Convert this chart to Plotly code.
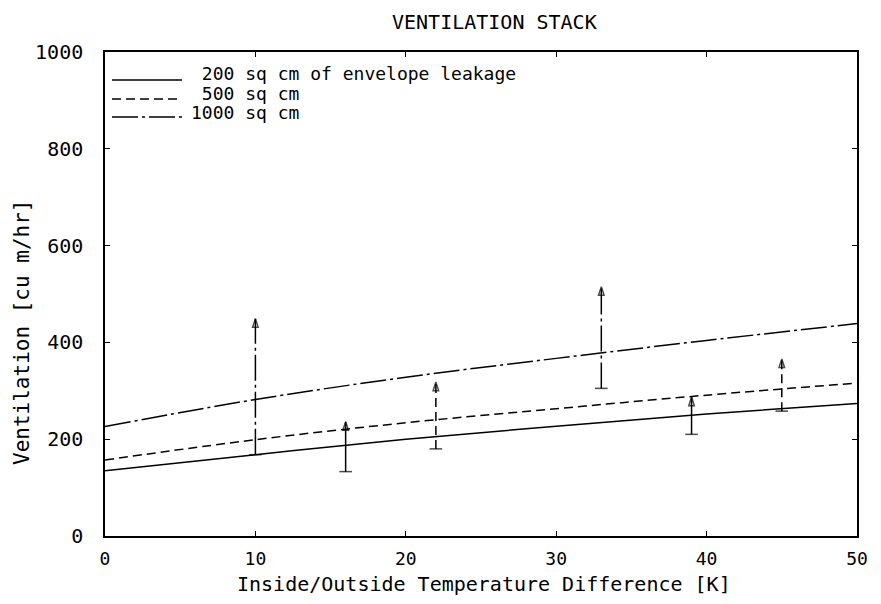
import plotly.graph_objects as go

# ---- data ----
temp_diff = [0, 10, 20, 30, 40, 50]
vent_200 = [135, 168, 200, 227, 252, 274]
vent_500 = [157, 199, 234, 263, 291, 316]
vent_1000 = [226, 282, 328, 367, 404, 439]

series_labels = ["\u00a0200 sq cm of envelope leakage", "\u00a0500 sq cm", "1000 sq cm"]

# measured points shown as vertical arrows (x, low, high, style index)
arrow_x = [10, 16, 22, 33, 39, 45]
arrow_lo = [168, 133, 180, 305, 210, 258]
arrow_hi = [449, 236, 318, 515, 287, 366]
arrow_style = [2, 0, 1, 2, 0, 1]

x_ticks = [0, 10, 20, 30, 40, 50]
y_ticks = [0, 200, 400, 600, 800, 1000]

title_text = "VENTILATION STACK"
x_title = "Inside/Outside Temperature Difference [K]"
y_title = "Ventilation [cu m/hr]"

FONT = "DejaVu Sans Mono, Liberation Mono, monospace"
dashes = ["solid", "9px,5px", "26px,4px,3px,4px"]

fig = go.Figure()
for i, vals in enumerate((vent_200, vent_500, vent_1000)):
    fig.add_trace(go.Scatter(x=temp_diff, y=vals, mode="lines",
                             line=dict(color="black", width=1.5, dash=dashes[i], shape="spline"),
                             showlegend=False, hoverinfo="skip"))

for xv, lo, hi, st in zip(arrow_x, arrow_lo, arrow_hi, arrow_style):
    fig.add_trace(go.Scatter(x=[xv, xv], y=[lo, hi], mode="lines+markers",
                             line=dict(color="black", width=1.5, dash=dashes[st]),
                             marker=dict(symbol=["line-ew", "arrow-open"], size=[9, 9],
                                         color="black", line=dict(color="black", width=1.5)),
                             showlegend=False, hoverinfo="skip"))

# page body has an 8px margin: shrink the figure so it fills the window
OFF = 8
W, H = 881, 604          # window / reference size
L, R, T, B = 105, 24, 52, 68   # plot box in reference pixels
pw, ph = W - L - R, H - T - B
def px(x):
    return (x - L) / pw
def py(y):
    return (H - B - y) / ph

leg_line_y = [80, 99, 117]
leg_text_y = [74, 93, 112]
for i in range(3):
    fig.add_shape(type="line", xref="paper", yref="paper",
                  x0=px(112), x1=px(182), y0=py(leg_line_y[i]), y1=py(leg_line_y[i]),
                  line=dict(color="black", width=1.5, dash=dashes[i]))
    fig.add_annotation(xref="paper", yref="paper", x=px(189), y=py(leg_text_y[i]),
                       xanchor="left", yanchor="middle", showarrow=False,
                       text=series_labels[i], font=dict(family=FONT, size=18, color="black"))

fig.add_annotation(xref="paper", yref="paper", x=px(495), y=py(22), xanchor="center",
                   yanchor="middle", showarrow=False, text=title_text,
                   font=dict(family=FONT, size=20, color="black"))
fig.add_annotation(xref="paper", yref="paper", x=px(484), y=py(584), xanchor="center",
                   yanchor="middle", showarrow=False, text=x_title,
                   font=dict(family=FONT, size=20, color="black"))
fig.add_annotation(xref="paper", yref="paper", x=px(22), y=py(332), xanchor="center",
                   yanchor="middle", showarrow=False, text=y_title, textangle=-90,
                   font=dict(family=FONT, size=21, color="black"))

axis_common = dict(showgrid=False, zeroline=False, showline=True, linecolor="black",
                   linewidth=1.5, mirror="ticks", ticks="inside", ticklen=5,
                   tickwidth=1.2, tickcolor="black")
fig.update_xaxes(range=[0, 50], tickvals=x_ticks, ticktext=[str(v) for v in x_ticks],
                 ticklabelstandoff=6, tickfont=dict(family=FONT, size=18, color="black"),
                 **axis_common)
fig.update_yaxes(range=[0, 1000], tickvals=y_ticks, ticktext=[str(v) for v in y_ticks],
                 ticklabelstandoff=16, tickfont=dict(family=FONT, size=20, color="black"),
                 **axis_common)

fig.update_layout(width=W - OFF, height=H - OFF,
                  margin=dict(l=L - OFF, r=R, t=T - OFF, b=B),
                  paper_bgcolor="white", plot_bgcolor="white", showlegend=False)

fig.write_html("out.html")
